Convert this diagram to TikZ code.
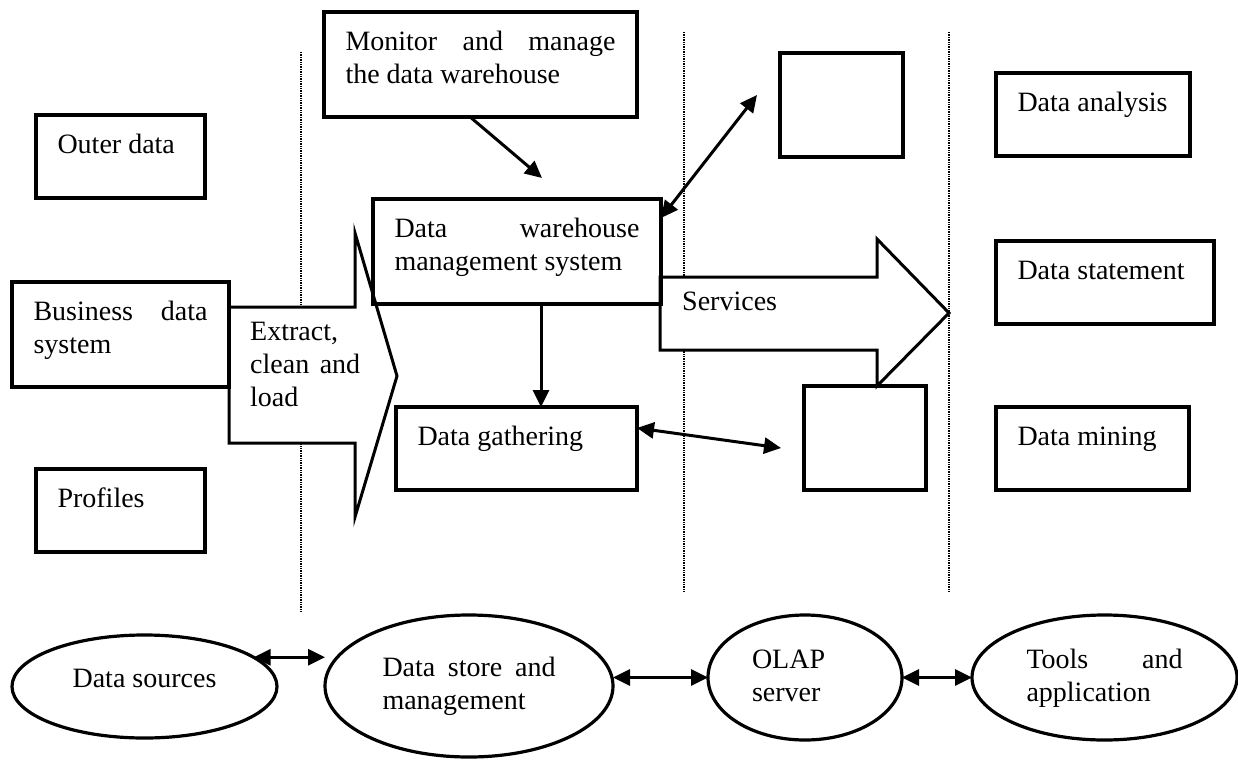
\documentclass[tikz,border=0pt]{standalone}
\usepackage{fontspec}
\setmainfont{Liberation Serif}
\usetikzlibrary{shapes.geometric,arrows.meta,calc}

\begin{document}
\begin{tikzpicture}[x=1pt,y=-1pt,font=\fontsize{28pt}{33pt}\selectfont,
	box/.style={draw,line width=3.2pt,anchor=north west,outer sep=0pt,inner xsep=21.5pt,inner ysep=17pt,text height=21.5pt,text depth=27.5pt,align=justify},
	twoline/.style={text depth=49.5pt},
	oval/.style={draw,ellipse,line width=3.2pt,inner sep=0pt,outer sep=0pt,align=justify,text height=20.5pt,text depth=39.5pt},
	blk/.style={draw,fill=white,line width=3pt,line join=miter},
	lbl/.style={inner sep=0pt,anchor=base west,align=justify},
	divider/.style={line width=2.4pt,dash pattern=on 1.4pt off 1pt},
	arr/.style={line width=3pt,-{Triangle[length=17pt,width=16pt]}},
	dbl/.style={line width=3pt,{Triangle[length=17pt,width=16pt]}-{Triangle[length=17pt,width=16pt]}}]
					\useasboundingbox (0,0) rectangle (1238,760);
					%DIVIDERS
					\foreach \xx/\ya/\yb in {301/52/612,684/32/592,949/32/592}
						\draw[divider] (\xx,\ya) -- (\xx,\yb);
					%BLOCK ARROWS
					\draw[blk] (229,307) -- (355,307) -- (355,233) -- (397,376) -- (355,517) -- (355,443) -- (229,443) -- cycle;
					\node[lbl,text width=110pt] (etl) at (250,340) {Extract,\linebreak clean and\linebreak load};
					\draw[blk] (660,277) -- (877,277) -- (877,239) -- (949,313) -- (877,386) -- (877,350) -- (660,350) -- cycle;
					\node[lbl] (svc) at (682,310) {Services};
					%SOURCES
					\node[box,text width=126pt] (outer) at (36,115) {Outer data};
					\node[box,twoline,text width=174pt] (biz) at (12,282) {Business data\linebreak system};
					\node[box,text width=126pt] (prof) at (36,469) {Profiles};
					%STORE
					\node[box,twoline,text width=270pt] (mon) at (324,12) {Monitor and manage\linebreak the data warehouse};
					\node[box,twoline,text width=245pt] (dw) at (373,199) {Data warehouse\linebreak management system};
					\node[box,text width=198pt] (gat) at (396,407) {Data gathering};
					%OLAP
					\node[box,minimum width=123pt,minimum height=104pt] (cubeA) at (780,53) {};
					\node[box,minimum width=122pt,minimum height=104pt] (cubeB) at (804,386) {};
					%TOOLS
					\node[box,text width=151pt] (ana) at (996,73) {Data analysis};
					\node[box,text width=175pt] (sta) at (996,241) {Data statement};
					\node[box,text width=150pt] (mng) at (996,407) {Data mining};
					%LAYERS
					\node[oval,minimum width=265pt,minimum height=103pt,text height=10pt,text depth=9pt] (src) at (144.5,686.5) {Data sources};
					\node[oval,minimum width=288pt,minimum height=142pt,text width=173pt] (store) at (469,686) {Data store and\linebreak management};
					\node[oval,minimum width=194pt,minimum height=125pt,text width=106pt,align=left] (olap) at (805,677.5) {OLAP\\server};
					\node[oval,minimum width=265pt,minimum height=125pt,text width=156pt] (tools) at (1104.5,677.5) {Tools and\linebreak application};
					%CONNECTORS
					\coordinate (monend) at (542,178);
					\coordinate (upend) at (757,95);
					\coordinate (lowend) at (781,448);
					\draw[arr] ($(mon.south west)!0.467!(mon.south east)$) -- (monend);
					\draw[dbl] ([yshift=-19pt]dw.north east) -- (upend);
					\draw[arr] (541,0 |- dw.south) -- (541,0 |- gat.north);
					\draw[dbl] ([yshift=-21pt]gat.north east) -- (lowend);
					\draw[dbl] (src.15) -- (src.15 -| store.west);
					\draw[dbl] (olap.west -| store.east) -- (olap.west);
					\draw[dbl] (olap.east) -- (tools.west);
\end{tikzpicture}
\end{document}
